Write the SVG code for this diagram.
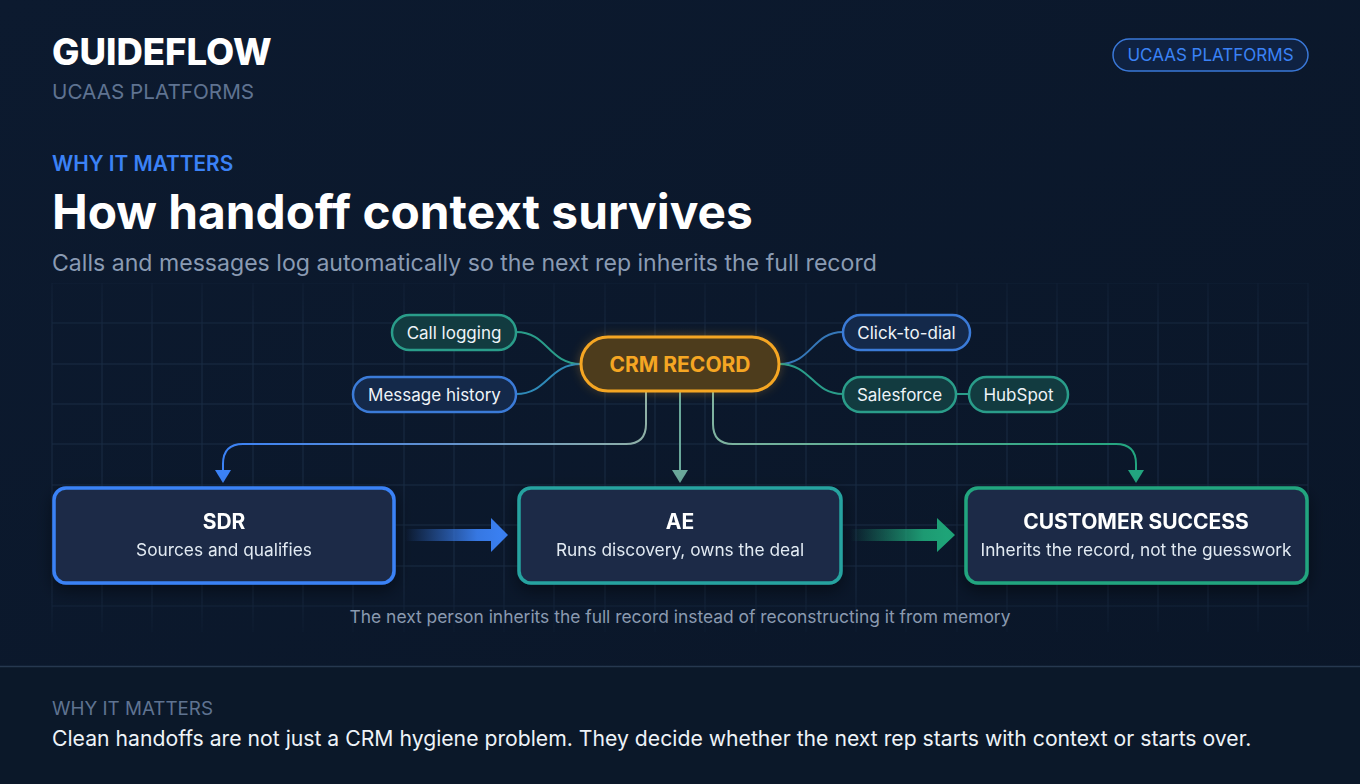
<svg xmlns="http://www.w3.org/2000/svg" width="1360" height="784" viewBox="0 0 1360 784">
<defs>
<style>
.t{font-family:Inter,"Noto Sans","Liberation Sans",sans-serif}
.pill-text{font-family:Inter,"Noto Sans","Liberation Sans",sans-serif;font-size:17px;fill:#eef3f8;text-anchor:middle}
.box-title{font-family:Inter,"Noto Sans","Liberation Sans",sans-serif;font-size:21px;font-weight:700;fill:#ffffff;text-anchor:middle}
.box-sub{font-family:Inter,"Noto Sans","Liberation Sans",sans-serif;font-size:17.3px;fill:#e3eaf3;text-anchor:middle}
.teal-pill{fill:#123b40;stroke:#2a9d8a;stroke-width:2.5}
.blue-pill{fill:#14294a;stroke:#3b7bd8;stroke-width:2.5}
.box{fill:#1b2c47;stroke-width:3.5}
.grid line{stroke:#1b2c45;stroke-width:1}
</style>
<linearGradient id="bg" x1="0" y1="0" x2="1" y2="1">
<stop offset="0" stop-color="#0c1a2f"/>
<stop offset="1" stop-color="#0a1628"/>
</linearGradient>
<radialGradient id="crmGlow" cx="0.5" cy="0.5" r="0.5">
<stop offset="0" stop-color="#f5a623" stop-opacity="0.22"/>
<stop offset="1" stop-color="#f5a623" stop-opacity="0"/>
</radialGradient>
<linearGradient id="leftLine" x1="646" y1="0" x2="223" y2="0" gradientUnits="userSpaceOnUse">
<stop offset="0" stop-color="#8fb0a6"/>
<stop offset="0.5" stop-color="#5f8fcf"/>
<stop offset="1" stop-color="#3b82f6"/>
</linearGradient>
<linearGradient id="rightLine" x1="713" y1="0" x2="1136" y2="0" gradientUnits="userSpaceOnUse">
<stop offset="0" stop-color="#7fb3a0"/>
<stop offset="1" stop-color="#22a57f"/>
</linearGradient>
<linearGradient id="arrowBlue" x1="405" y1="0" x2="508" y2="0" gradientUnits="userSpaceOnUse">
<stop offset="0" stop-color="#3b82f6" stop-opacity="0"/>
<stop offset="0.7" stop-color="#3b82f6" stop-opacity="0.9"/>
<stop offset="1" stop-color="#3b82f6"/>
</linearGradient>
<linearGradient id="arrowGreen" x1="850" y1="0" x2="955" y2="0" gradientUnits="userSpaceOnUse">
<stop offset="0" stop-color="#1fa87a" stop-opacity="0"/>
<stop offset="0.7" stop-color="#1fa87a" stop-opacity="0.9"/>
<stop offset="1" stop-color="#1fa87a"/>
</linearGradient>
<linearGradient id="gridFade" x1="0" y1="0" x2="0" y2="1">
<stop offset="0" stop-color="#fff" stop-opacity="0.4"/>
<stop offset="0.15" stop-color="#fff" stop-opacity="1"/>
<stop offset="0.85" stop-color="#fff" stop-opacity="1"/>
<stop offset="1" stop-color="#fff" stop-opacity="0.2"/>
</linearGradient>
<mask id="gm"><rect x="0" y="283" width="1360" height="350" fill="url(#gridFade)"/></mask>
<filter id="glow" x="-30%" y="-60%" width="160%" height="220%"><feGaussianBlur stdDeviation="6"/></filter>
<filter id="shadow" x="-10%" y="-20%" width="120%" height="150%"><feDropShadow dx="0" dy="6" stdDeviation="8" flood-color="#000" flood-opacity="0.45"/></filter>
</defs>

<rect width="1360" height="784" fill="url(#bg)"/>

<g class="grid" mask="url(#gm)">
<line x1="52" y1="283" x2="52" y2="632"/><line x1="102" y1="283" x2="102" y2="632"/><line x1="152" y1="283" x2="152" y2="632"/><line x1="202" y1="283" x2="202" y2="632"/><line x1="253" y1="283" x2="253" y2="632"/><line x1="303" y1="283" x2="303" y2="632"/><line x1="353" y1="283" x2="353" y2="632"/><line x1="404" y1="283" x2="404" y2="632"/><line x1="454" y1="283" x2="454" y2="632"/><line x1="504" y1="283" x2="504" y2="632"/><line x1="554" y1="283" x2="554" y2="632"/><line x1="605" y1="283" x2="605" y2="632"/><line x1="655" y1="283" x2="655" y2="632"/><line x1="705" y1="283" x2="705" y2="632"/><line x1="756" y1="283" x2="756" y2="632"/><line x1="806" y1="283" x2="806" y2="632"/><line x1="856" y1="283" x2="856" y2="632"/><line x1="906" y1="283" x2="906" y2="632"/><line x1="957" y1="283" x2="957" y2="632"/><line x1="1007" y1="283" x2="1007" y2="632"/><line x1="1057" y1="283" x2="1057" y2="632"/><line x1="1108" y1="283" x2="1108" y2="632"/><line x1="1158" y1="283" x2="1158" y2="632"/><line x1="1208" y1="283" x2="1208" y2="632"/><line x1="1258" y1="283" x2="1258" y2="632"/><line x1="1308" y1="283" x2="1308" y2="632"/>
<line x1="52" y1="283" x2="1308" y2="283"/><line x1="52" y1="323" x2="1308" y2="323"/><line x1="52" y1="364" x2="1308" y2="364"/><line x1="52" y1="404" x2="1308" y2="404"/><line x1="52" y1="444" x2="1308" y2="444"/><line x1="52" y1="485" x2="1308" y2="485"/><line x1="52" y1="525" x2="1308" y2="525"/><line x1="52" y1="566" x2="1308" y2="566"/><line x1="52" y1="606" x2="1308" y2="606"/>
</g>

<g id="header">
<text class="t" x="52" y="65" font-size="36.5" font-weight="800" fill="#ffffff">GUIDEFLOW</text>
<text class="t" x="52" y="99" font-size="20.7" fill="#5f7391">UCAAS PLATFORMS</text>
</g>
<g id="badge">
<rect x="1113" y="39" width="195" height="32" rx="16" fill="#0f2242" stroke="#3a78d8" stroke-width="1.5"/>
<text class="t" x="1210.5" y="61" font-size="17" fill="#3b82f6" text-anchor="middle">UCAAS PLATFORMS</text>
</g>
<g id="titles">
<text class="t" x="52" y="171" font-size="20.8" font-weight="600" fill="#3b82f6">WHY IT MATTERS</text>
<text class="t" x="52" y="229" font-size="47.8" font-weight="700" fill="#ffffff">How handoff context survives</text>
<text class="t" x="52" y="271" font-size="23.1" fill="#8a9bb3">Calls and messages log automatically so the next rep inherits the full record</text>
</g>

<g id="connectors" fill="none" stroke-width="2">
<path d="M581,364 C548,364 548,332 516,332" stroke="#2a9d8a"/>
<path d="M581,364 C548,364 548,394 516,394" stroke="#2f8ab8"/>
<path d="M779,364 C812,364 812,332 843,332" stroke="#3577b8"/>
<path d="M779,364 C812,364 812,394 843,394" stroke="#2a9d8a"/>
<path d="M956,394 L969,394" stroke="#2a9d8a"/>
<path d="M646,391 L646,424 Q646,444 626,444 L243,444 Q223,444 223,464 L223,472" stroke="url(#leftLine)"/>
<path d="M223,483 L215,470 L231,470 Z" fill="#3b82f6" stroke="none"/>
<path d="M680,391 L680,472" stroke="#6aa89a"/>
<path d="M680,483 L672,470 L688,470 Z" fill="#6aa89a" stroke="none"/>
<path d="M713,391 L713,424 Q713,444 733,444 L1116,444 Q1136,444 1136,464 L1136,472" stroke="url(#rightLine)"/>
<path d="M1136,483 L1128,470 L1144,470 Z" fill="#22a57f" stroke="none"/>
<path d="M405,529 L491,529 L491,518 L508,535 L491,552 L491,541 L405,541 Z" fill="url(#arrowBlue)" stroke="none"/>
<path d="M850,529 L937,529 L937,518 L955,535 L937,552 L937,541 L850,541 Z" fill="url(#arrowGreen)" stroke="none"/>
</g>

<g id="crm-record">
<rect x="570" y="328" width="220" height="72" rx="36" fill="url(#crmGlow)"/>
<rect x="581" y="337" width="198" height="54" rx="27" fill="#f5a623" opacity="0.35" filter="url(#glow)"/>
<rect x="581" y="337" width="198" height="54" rx="27" fill="#4d3c1c" stroke="#f5a623" stroke-width="3"/>
<text class="t" x="680" y="372" font-size="21" font-weight="700" fill="#f5a623" text-anchor="middle">CRM RECORD</text>
</g>
<g id="call-logging">
<rect class="teal-pill" x="392" y="315" width="124" height="35" rx="17.5"/>
<text class="pill-text" x="454" y="338.5">Call logging</text>
</g>
<g id="message-history">
<rect class="blue-pill" x="353" y="377" width="163" height="35" rx="17.5"/>
<text class="pill-text" x="434.5" y="400.5">Message history</text>
</g>
<g id="click-to-dial">
<rect class="blue-pill" x="843" y="315" width="127" height="35" rx="17.5"/>
<text class="pill-text" x="906.5" y="338.5">Click-to-dial</text>
</g>
<g id="salesforce">
<rect class="teal-pill" x="843" y="377" width="113" height="35" rx="17.5"/>
<text class="pill-text" x="899.5" y="400.5">Salesforce</text>
</g>
<g id="hubspot">
<rect class="teal-pill" x="969" y="377" width="99" height="35" rx="17.5"/>
<text class="pill-text" x="1018.5" y="400.5">HubSpot</text>
</g>

<g id="sdr" filter="url(#shadow)">
<rect class="box" x="54" y="488" width="340" height="95" rx="12" stroke="#3b82f6"/>
<text class="box-title" x="224" y="529">SDR</text>
<text class="box-sub" x="224" y="556">Sources and qualifies</text>
</g>
<g id="ae" filter="url(#shadow)">
<rect class="box" x="519" y="488" width="322" height="95" rx="12" stroke="#26a3a0"/>
<text class="box-title" x="680" y="529">AE</text>
<text class="box-sub" x="680" y="556">Runs discovery, owns the deal</text>
</g>
<g id="customer-success" filter="url(#shadow)">
<rect class="box" x="966" y="488" width="341" height="95" rx="12" stroke="#22a57f"/>
<text class="box-title" x="1136" y="529">CUSTOMER SUCCESS</text>
<text class="box-sub" x="1136" y="556">Inherits the record, not the guesswork</text>
</g>

<text class="t" x="680" y="623" font-size="17.4" fill="#8a9ab0" text-anchor="middle">The next person inherits the full record instead of reconstructing it from memory</text>

<g id="footer">
<rect x="0" y="667" width="1360" height="117" fill="#0b1829"/>
<line x1="0" y1="666.5" x2="1360" y2="666.5" stroke="#26384f" stroke-width="1.5"/>
<text class="t" x="52" y="715" font-size="18.8" fill="#5f7391">WHY IT MATTERS</text>
<text class="t" x="52" y="746" font-size="21.2" fill="#eef3f8">Clean handoffs are not just a CRM hygiene problem. They decide whether the next rep starts with context or starts over.</text>
</g>
</svg>
